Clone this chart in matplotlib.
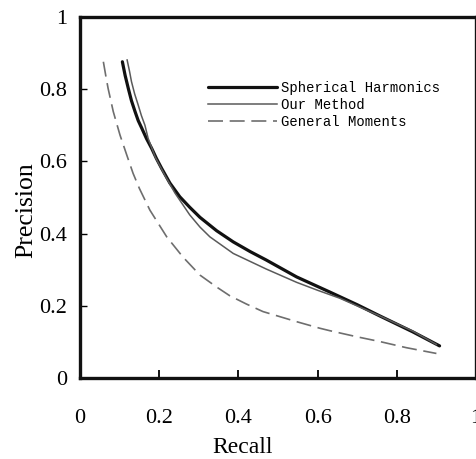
import matplotlib
matplotlib.use("Agg")
import matplotlib.pyplot as plt

# ── data ────────────────────────────────────────────────────────────────
sh_recall = [0.107, 0.114, 0.122, 0.13, 0.139, 0.147, 0.156, 0.168, 0.181,
             0.193, 0.206, 0.227, 0.252, 0.277, 0.303, 0.345, 0.387, 0.43,
             0.47, 0.547, 0.631, 0.70, 0.757, 0.84, 0.908]
sh_prec   = [0.876, 0.838, 0.802, 0.768, 0.738, 0.713, 0.692, 0.663, 0.636,
             0.608, 0.581, 0.54, 0.502, 0.473, 0.445, 0.408, 0.377, 0.35,
             0.327, 0.28, 0.238, 0.203, 0.172, 0.128, 0.089]

our_recall = [0.119, 0.125, 0.130, 0.138, 0.147, 0.155, 0.164, 0.172, 0.19,
              0.215, 0.24, 0.277, 0.303, 0.328, 0.387, 0.47, 0.547, 0.60,
              0.656, 0.757, 0.84, 0.90]
our_prec   = [0.881, 0.85, 0.821, 0.787, 0.756, 0.727, 0.70, 0.664, 0.612,
              0.56, 0.512, 0.452, 0.418, 0.391, 0.345, 0.302, 0.265, 0.243,
              0.221, 0.172, 0.13, 0.093]

gm_recall = [0.059, 0.065, 0.071, 0.084, 0.101, 0.118, 0.134, 0.15, 0.1765,
             0.219, 0.26, 0.303, 0.345, 0.378, 0.42, 0.462, 0.547, 0.605,
             0.631, 0.70, 0.757, 0.824, 0.90]
gm_prec   = [0.876, 0.838, 0.802, 0.738, 0.673, 0.618, 0.567, 0.525, 0.465,
             0.391, 0.335, 0.285, 0.252, 0.228, 0.205, 0.184, 0.156, 0.138,
             0.131, 0.114, 0.101, 0.084, 0.068]

labels = ["Spherical Harmonics", "Our Method", "General Moments"]
ticks = [0, 0.2, 0.4, 0.6, 0.8, 1]
tick_labels = ["0", "0.2", "0.4", "0.6", "0.8", "1"]

serif = ["Liberation Serif", "DejaVu Serif"]

fig = plt.figure(figsize=(4.77, 4.59), dpi=100)
ax = fig.add_axes([80 / 477, 81 / 459, 396 / 477, 361 / 459])

ax.plot(sh_recall, sh_prec, color="#111111", lw=2.3, label=labels[0],
        solid_capstyle="round", solid_joinstyle="round")
ax.plot(our_recall, our_prec, color="#5a5a5a", lw=1.1, label=labels[1],
        solid_joinstyle="round")
ax.plot(gm_recall, gm_prec, color="#6e6e6e", lw=1.2, dashes=(9, 4),
        label=labels[2])

ax.set_xlim(0, 1)
ax.set_ylim(0, 1)
ax.set_xticks(ticks)
ax.set_xticklabels(tick_labels, family=serif, fontsize=16)
ax.set_yticks(ticks)
ax.set_yticklabels(tick_labels, family=serif, fontsize=16)
ax.tick_params(axis="x", direction="in", length=6, width=1.3, pad=22)
ax.tick_params(axis="y", direction="in", length=5, width=1.0, pad=9)

for sp in ax.spines.values():
    sp.set_linewidth(2.4)
    sp.set_color("#111111")

ax.set_xlabel("Recall", family=serif, fontsize=17)
ax.xaxis.set_label_coords(0.41, -0.163)
ax.set_ylabel("Precision", family=serif, fontsize=18.5)
ax.yaxis.set_label_coords(-0.107, 0.465)

leg = ax.legend(loc="upper left", bbox_to_anchor=(0.322, 0.822),
                frameon=False, borderpad=0, borderaxespad=0,
                handlelength=5.0, handletextpad=0.3, labelspacing=0.2,
                prop={"family": ["Liberation Mono", "DejaVu Sans Mono"],
                      "size": 10})

fig.savefig("out.png", dpi=100)
